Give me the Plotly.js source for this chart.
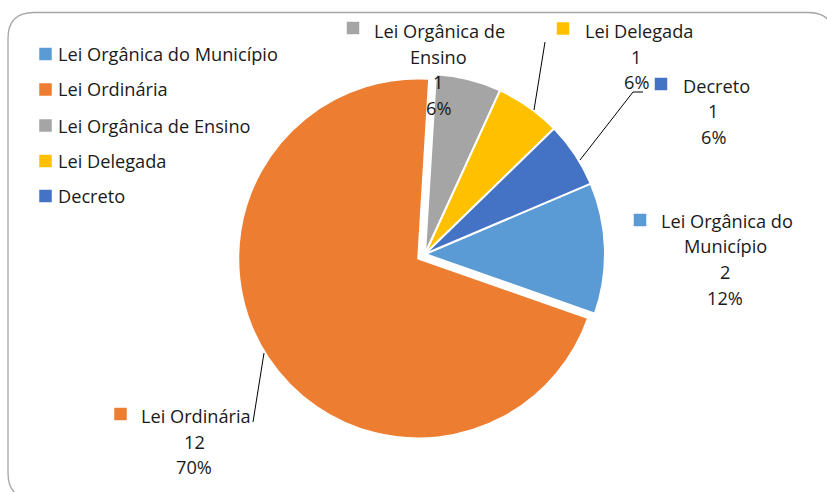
<!DOCTYPE html>
<html><head><meta charset="utf-8">
<script src="https://cdn.plot.ly/plotly-3.0.1.min.js"></script>
<style>html,body{margin:0;padding:0;background:#fff}#chart{width:827px;height:492px}</style>
</head><body><div id="chart"></div>
<script>
// ---- data ----
const categories = ['Lei Orgânica do Município', 'Lei Ordinária', 'Lei Orgânica de Ensino', 'Lei Delegada', 'Decreto'];
const counts = [2, 12, 1, 1, 1];
const percentLabels = ['12%', '70%', '6%', '6%', '6%'];
const labelLines = [['Lei Orgânica do', 'Município'], ['Lei Ordinária'], ['Lei Orgânica de', 'Ensino'], ['Lei Delegada'], ['Decreto']];

// ---- styling / layout ----
const colors = ['#5B9BD5', '#ED7D31', '#A5A5A5', '#FFC000', '#4472C4'];
const pulls = [0, 0.045, 0, 0, 0];
const W = 827, H = 492;
const FONT = '"Open Sans", Lato, sans-serif';
const FS = 18.2;
const TXT = '#1a1a1a';
const px = x => x / W, py = y => 1 - y / H;

// pie geometry (pixels)
const CX = 425, CY = 254, R = 180;
const half = R * (1 + Math.max(...pulls));

// data label placement (pixels): square centre, first-line left x, first-line y, centre x of other lines, gap
const labelPos = [
  {sq: [640, 220], fx: 659, y0: 221, cx: 725, gap: 25.5},
  {sq: [120.5, 414], fx: 139, y0: 416, cx: 194, gap: 25.5},
  {sq: [353, 28], fx: 372, y0: 31, cx: 438, gap: 25.5},
  {sq: [563, 28.5], fx: 583, y0: 31, cx: 636, gap: 25.5},
  {sq: [661, 84], fx: 681, y0: 86, cx: 713, gap: 25.5}
];
const legendRows = [54, 89.5, 125.5, 161, 196];
const SQ = 12.5;

const annotations = [];
const shapes = [];

function square(cx, cy, color) {
  shapes.push({type: 'rect', xref: 'paper', yref: 'paper',
    x0: px(cx - SQ / 2), x1: px(cx + SQ / 2), y0: py(cy + SQ / 2), y1: py(cy - SQ / 2),
    fillcolor: color, line: {width: 0}});
}
function text(t, x, y, anchor) {
  annotations.push({text: t, xref: 'paper', yref: 'paper', x: px(x), y: py(y),
    xanchor: anchor, yanchor: 'middle', showarrow: false,
    font: {family: FONT, size: FS, color: TXT}});
}

// legend
categories.forEach((c, i) => {
  square(45.5, legendRows[i], colors[i]);
  text(c, 56, legendRows[i], 'left');
});

// data labels
categories.forEach((c, i) => {
  const p = labelPos[i];
  square(p.sq[0], p.sq[1], colors[i]);
  const lines = labelLines[i].concat([String(counts[i]), percentLabels[i]]);
  lines.forEach((ln, k) => {
    if (k === 0) text(ln, p.fx, p.y0, 'left');
    else text(ln, p.cx, p.y0 + k * p.gap, 'center');
  });
});

// leader lines
const leaders = [
  [[545, 42], [534, 110]],
  [[580, 160], [633, 92], [643, 92]],
  [[253, 422], [264, 353]]
];
leaders.forEach(pts => {
  const d = pts.map((p, k) => (k ? 'L' : 'M') + px(p[0]) + ',' + py(p[1])).join(' ');
  shapes.push({type: 'path', xref: 'paper', yref: 'paper', path: d, line: {color: '#000', width: 1}});
});

// chart border (rounded rectangle, extends past right/bottom edges)
(function () {
  const L = 8, T = 12.5, Rr = 834, B = 499, r = 26;
  const P = (x, y) => px(x) + ',' + py(y);
  const d = 'M' + P(L + r, T) + ' L' + P(Rr - r, T) + ' Q' + P(Rr, T) + ' ' + P(Rr, T + r) +
    ' L' + P(Rr, B - r) + ' Q' + P(Rr, B) + ' ' + P(Rr - r, B) +
    ' L' + P(L + r, B) + ' Q' + P(L, B) + ' ' + P(L, B - r) +
    ' L' + P(L, T + r) + ' Q' + P(L, T) + ' ' + P(L + r, T) + ' Z';
  shapes.push({type: 'path', xref: 'paper', yref: 'paper', path: d, line: {color: '#A6A6A6', width: 1.3}, layer: 'below'});
})();

const trace = {
  type: 'pie',
  labels: categories,
  values: counts,
  sort: false,
  direction: 'clockwise',
  rotation: 67,
  pull: pulls,
  marker: {colors: colors, line: {color: '#ffffff', width: 2}},
  textinfo: 'none',
  hoverinfo: 'label+value+percent',
  showlegend: false,
  domain: {x: [px(CX - half), px(CX + half)], y: [py(CY + half), py(CY - half)]}
};

const layout = {
  width: W, height: H,
  margin: {l: 0, r: 0, t: 0, b: 0},
  paper_bgcolor: '#ffffff',
  showlegend: false,
  annotations: annotations,
  shapes: shapes,
  font: {family: FONT, size: FS, color: TXT}
};

Plotly.newPlot('chart', [trace], layout, {displayModeBar: false, staticPlot: true});
</script>
</body></html>
